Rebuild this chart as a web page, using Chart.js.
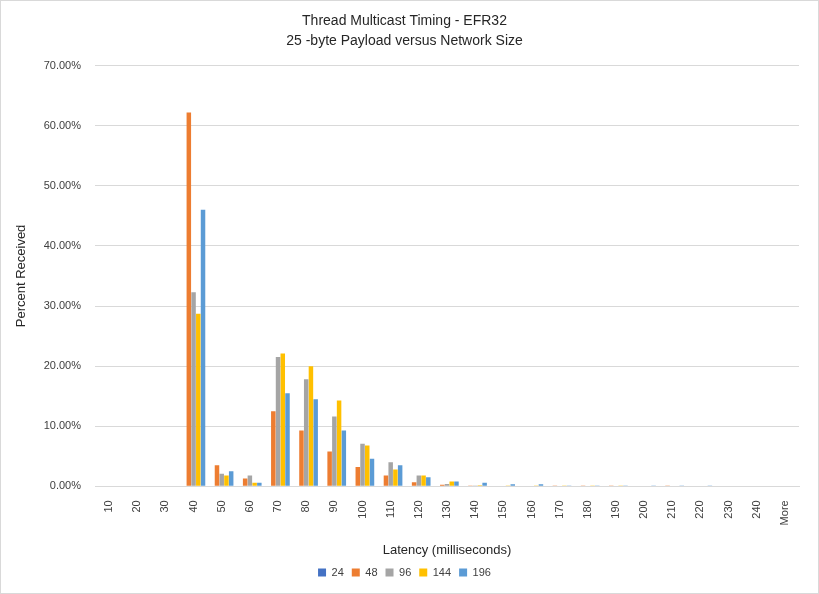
<!DOCTYPE html>
<html>
<head>
<meta charset="utf-8">
<script src="https://cdn.jsdelivr.net/npm/chart.js@4"></script>
<style>
  html,body{margin:0;padding:0;background:#fff;}
  #wrap{position:relative;width:817px;height:592px;border:1px solid #d9d9d9;}
  canvas{display:block;}
</style>
</head>
<body>
<div id="wrap"><canvas id="chart" width="817" height="592"></canvas></div>
<script>
// ─── DATA ─────────────────────────────────────────────────────────────────────
const categories = ['10','20','30','40','50','60','70','80','90','100','110','120','130','140','150','160','170','180','190','200','210','220','230','240','More'];
const seriesNames = ['24','48','96','144','196'];
const s24  = [0,0,0,0,0,0,0,0,0,0,0,0,0,0,0,0,0,0,0,0,0,0,0,0,0];
const s48  = [0,0,0,62.2,3.5,1.3,12.5,9.3,5.8,3.2,1.8,0.7,0.25,0.05,0,0,0.04,0.04,0.04,0,0.04,0,0,0,0];
const s96  = [0,0,0,32.3,2.1,1.8,21.5,17.8,11.6,7.1,4.0,1.8,0.4,0.05,0,0,0,0,0,0,0,0,0,0,0];
const s144 = [0,0,0,28.7,1.8,0.6,22.1,20.0,14.3,6.8,2.8,1.8,0.8,0.2,0.04,0.04,0.04,0.04,0.04,0,0,0,0,0,0];
const s196 = [0,0,0,46.0,2.5,0.6,15.5,14.5,9.3,4.6,3.5,1.5,0.8,0.6,0.35,0.35,0.05,0.05,0.05,0.05,0.05,0.05,0,0,0];
const yTicks = [0,10,20,30,40,50,60,70];
const colors = ['#4472C4','#ED7D31','#A5A5A5','#FFC000','#5B9BD5'];

const FONT = "'Liberation Sans', Arial, sans-serif";
const allSeries = [s24,s48,s96,s144,s196];

new Chart(document.getElementById('chart'), {
  type:'bar',
  data:{
    labels:categories,
    datasets:allSeries.map((d,i)=>({label:seriesNames[i], data:d, backgroundColor:colors[i], borderWidth:0}))
  },
  options:{
    responsive:false, animation:false,
    layout:{padding:{left:9,right:19,top:10,bottom:5}},
    datasets:{bar:{categoryPercentage:0.84, barPercentage:0.95}},
    plugins:{
      title:{display:true, text:['Thread Multicast Timing - EFR32','25 -byte Payload versus Network Size'],
        color:'#262626', font:{family:FONT,size:14,weight:'normal',lineHeight:1.45}, padding:{top:0,bottom:14}},
      legend:{position:'bottom', labels:{font:{family:FONT,size:11}, color:'#404040', boxWidth:8, boxHeight:8, padding:8}},
      tooltip:{callbacks:{label:c=>`${c.dataset.label}: ${c.raw.toFixed(2)}%`}}
    },
    scales:{
      x:{
        grid:{display:false},
        border:{color:'#d9d9d9'},
        ticks:{font:{family:FONT,size:11}, color:'#404040', minRotation:90, maxRotation:90, autoSkip:false, padding:6},
        title:{display:true, text:'Latency (milliseconds)', color:'#262626', font:{family:FONT,size:13}, padding:{top:11,bottom:1}}
      },
      y:{
        min:0, max:70,
        afterBuildTicks:s=>{ s.ticks = yTicks.map(v=>({value:v})); },
        afterFit:s=>{ s.width = 85; },
        grid:{color:'#d9d9d9', drawTicks:false},
        border:{display:false},
        ticks:{font:{family:FONT,size:11}, color:'#404040', padding:14, callback:v=>v.toFixed(2)+'%'},
        title:{display:true, text:'Percent Received', color:'#262626', font:{family:FONT,size:13}, padding:{bottom:6}}
      }
    }
  }
});
</script>
</body>
</html>
